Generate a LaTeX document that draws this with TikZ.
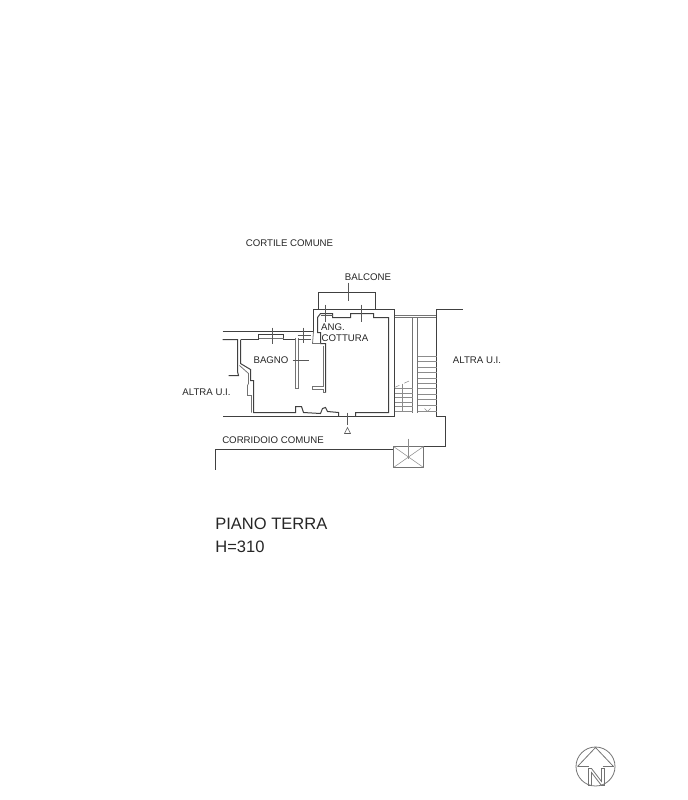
\documentclass[tikz,border=0pt]{standalone}
\usepackage{fontspec}
\setmainfont{Liberation Sans}
\tikzset{
  wall/.style={draw=black!75,line width=0.57pt},
  thin wall/.style={draw=black!55,line width=0.45pt},
  tread/.style={draw=black!45,line width=0.3pt},
  tick/.style={draw=black!65,line width=0.3pt},
  label text/.style={font=\fontsize{5.5}{6.5}\selectfont,inner sep=0pt,text=black!85},
  title text/.style={font=\fontsize{9.4}{11}\selectfont,inner sep=0pt,anchor=west,text=black!85}
}
\begin{document}
\begin{tikzpicture}[x=0.02cm,y=-0.02cm]
    \useasboundingbox (0,0) rectangle (687,800);
    \begin{scope}[shift={(0.5,0.5)}]
    % outer walls
    \draw[wall] (222,331) -- (313,331) -- (313,309) -- (394,309) -- (394,416) -- (222,416);
    \draw[wall] (222,339) -- (237,339) -- (237,371) -- (238,375) -- (228,375);
    % bagno
    \draw[wall] (240,339) -- (240,363) -- (250,369) -- (250,380) -- (253,380) -- (253,412)
      -- (295,412) -- (295,406) -- (301,406) -- (303,412) -- (320,413) -- (322,408) -- (325,407) -- (327,411) -- (338,412) -- (338,416);
    \draw[thin wall] (239,365) -- (248,373) -- (248,383) -- (247,385) -- (247,395) -- (251,395) -- (251,412);
    \draw[wall] (240,339) -- (258,339) -- (258,334) -- (283,334) -- (283,339) -- (295,339) -- (295,337);
    \draw[thin wall] (258,338) -- (283,338);
    \draw[wall] (355,416) -- (355,412) -- (388,412) -- (388,317) -- (373,317) -- (373,313) -- (350,313) -- (350,317) -- (332,317) -- (332,313) -- (320,313) -- (317,317) -- (317,332) -- (320,332) -- (320,343) -- (325,343) -- (325,392);
    \draw[thin wall] (313,331) -- (312,343) -- (320,343);
    % partitions
    \draw[thin wall] (295,337) -- (295,388) -- (298,388) -- (298,337);
    \draw[thin wall] (323,345) -- (323,386) -- (312,386) -- (312,389) -- (323,389) -- (323,392) -- (325,392);
    % balcone
    \draw[wall] (318,309) -- (318,292) -- (375,292) -- (375,309);
    % scale ticks
    \draw[tick] (348,282) -- (348,300);
    \draw[tick] (361,304) -- (361,321);
    \draw[tick] (325,304) -- (325,321) (320,315) -- (332,315);
    \draw[tick] (272,327) -- (272,343);
    \draw[tick] (303,327) -- (303,342) (297,335) -- (310,335) (297,339) -- (310,339);
    \draw[tick] (292,360) -- (308,360);
    \draw[tick] (347,412) -- (347,424);
    \draw[tick] (344,433) -- (347,427) -- (350,433) -- cycle;
    % stairs
    \draw[thin wall] (394,315) -- (436,315) (394,317) -- (436,317);
    \draw[thin wall] (412,317) -- (412,412) (417,317) -- (417,412);
    \draw[wall] (462,309) -- (436,309) -- (436,416) -- (445,416) -- (445,446) -- (423,446);
    \foreach \ty in {388,393,397,402,406,411}
      \draw[tread] (394,\ty) -- (412,\ty);
    \foreach \ty in {356,361,367,372,378,383,388,394,399,405,411}
      \draw[tread] (417,\ty) -- (436,\ty);
    \draw[tread,dashed] (394,387) -- (412,379);
    \draw[tread] (402,383) -- (402,411);
    \draw[tread] (424,408) -- (427,411) -- (430,408);
    % corridoio
    \draw[wall] (215,469) -- (215,449) -- (393,449);
    \draw[thin wall] (393,446) rectangle (423,467);
    \draw[tread] (393,446) -- (423,467) (393,467) -- (423,446);
    \draw[tread] (408,438) -- (408,458);
    % north
    \draw[thin wall] (595,766) circle (19.5);
    \draw[thin wall] (577,766) -- (595,747) -- (613,766);
    \draw[thin wall] (577,766) -- (588,766) (602,766) -- (613,766);
    \draw[thin wall] (588,785) -- (588,768) -- (591,768) -- (601,781) -- (601,768) -- (604,768) -- (604,785) -- (601,785) -- (591,772) -- (591,785) -- cycle;
    \end{scope}
    % labels
    \node[label text] (cortile) at (289.5,243) {CORTILE COMUNE};
    \node[label text] (balcone) at (368,277.5) {BALCONE};
    \node[label text] (ang) at (333,327) {ANG.};
    \node[label text] (cottura) at (345,338.5) {COTTURA};
    \node[label text] (bagno) at (271,360) {BAGNO};
    \node[label text] (altra1) at (206.5,392) {ALTRA U.I.};
    \node[label text] (altra2) at (477,360) {ALTRA U.I.};
    \node[label text] (corridoio) at (273,440) {CORRIDOIO COMUNE};
    \node[title text] (piano) at (215,524) {PIANO TERRA};
    \node[title text] (quota) at (215,547) {H=310};
\end{tikzpicture}
\end{document}
